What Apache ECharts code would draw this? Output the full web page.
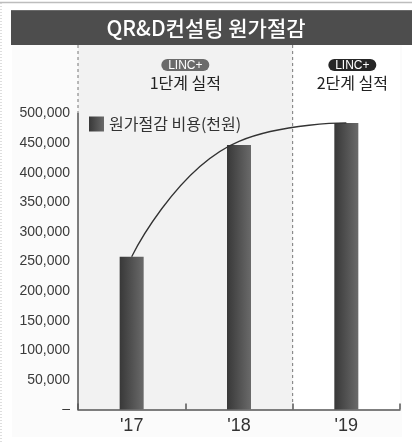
<!DOCTYPE html>
<html>
<head>
<meta charset="utf-8">
<script src="https://cdn.jsdelivr.net/npm/echarts@6/dist/echarts.min.js"></script>
<style>
  html, body { margin: 0; padding: 0; background: #ffffff; }
  #chart { width: 412px; height: 443px; }
</style>
</head>
<body>
<div id="chart"></div>
<script>
// Years on the category axis
var categories = ["'17", "'18", "'19"];
// Cost savings per year, in thousand won
var costSavings = [258000, 447000, 484000];
// Trend curve drawn over the bars
var trendValues = [258000, 453000, 484000];
// Value-axis tick values
var yTicks = [0, 50000, 100000, 150000, 200000, 250000, 300000, 350000, 400000, 450000, 500000];

var titleText = 'QR&D컨설팅 원가절감';
var seriesName = '원가절감 비용(천원)';
var phaseBadge = 'LINC+';
var phaseLabels = ['1단계 실적', '2단계 실적'];

var KR = '"Noto Sans CJK KR", "Noto Sans", sans-serif';
var NUM = '"Liberation Sans", Arial, sans-serif';

var chart = echarts.init(document.getElementById('chart'), null, { renderer: 'canvas' });

var option = {
  backgroundColor: '#ffffff',
  animation: false,
  grid: { left: 78, right: 12, top: 113.5, bottom: 33.5, containLabel: false },
  legend: {
    data: [seriesName],
    left: 84, top: 111,
    icon: 'rect', itemWidth: 15, itemHeight: 15, itemGap: 6,
    textStyle: { fontFamily: KR, fontSize: 16, color: '#333' }
  },
  xAxis: {
    type: 'category',
    data: categories,
    axisLine: { lineStyle: { color: '#555', width: 1.5 } },
    axisTick: { show: true, inside: true, length: 6, lineStyle: { color: '#555', width: 1.5 } },
    axisLabel: { fontFamily: NUM, fontSize: 18, color: '#333', margin: 8 },
    splitLine: { show: false }
  },
  yAxis: {
    type: 'value',
    min: yTicks[0], max: yTicks[yTicks.length - 1], interval: yTicks[1] - yTicks[0],
    axisLine: { show: true, lineStyle: { color: '#555', width: 1.5 } },
    axisTick: { show: false },
    splitLine: { show: false },
    axisLabel: {
      fontFamily: NUM, fontSize: 14, color: '#3a3a3a', margin: 8,
      formatter: function (v) { return v === 0 ? '–' : v.toLocaleString('en-US'); }
    }
  },
  series: [
    {
      name: seriesName,
      type: 'bar',
      data: costSavings,
      barWidth: 24,
      itemStyle: {
        color: new echarts.graphic.LinearGradient(0, 0, 1, 0, [
          { offset: 0, color: '#383838' },
          { offset: 1, color: '#6a6a6a' }
        ])
      },
      z: 2
    },
    {
      name: 'trend',
      type: 'line',
      data: trendValues,
      smooth: 0.5,
      symbol: 'none',
      lineStyle: { color: '#333', width: 1.3 },
      z: 3
    }
  ]
};
chart.setOption(option);

// Phase shading, dividers, badges and the title bar
function decorate() {
  var p0 = chart.convertToPixel({ seriesIndex: 0 }, [0, 0]);
  var p1 = chart.convertToPixel({ seriesIndex: 0 }, [1, 0]);
  var p2 = chart.convertToPixel({ seriesIndex: 0 }, [2, 0]);
  var band = p1[0] - p0[0];
  var axisX = p0[0] - band / 2;
  var divX = (p1[0] + p2[0]) / 2;
  var endX = p2[0] + band / 2;
  var baseY = p0[1];
  var topY = chart.convertToPixel({ seriesIndex: 0 }, [0, yTicks[yTicks.length - 1]])[1];
  var barTop = 45;
  var c1 = (axisX + divX) / 2;
  var c2 = (divX + endX) / 2 + 6;

  function badge(cx, fill) {
    return {
      type: 'group', x: cx, y: 65,
      children: [
        { type: 'rect', shape: { x: -24, y: -6, width: 48, height: 12, r: 6 }, style: { fill: fill } },
        { type: 'text', style: { x: 0, y: 0.5, text: phaseBadge, fill: '#fff', font: '12px ' + NUM, align: 'center', verticalAlign: 'middle' } }
      ]
    };
  }

  chart.setOption({
    graphic: [
      // outer frame
      { type: 'line', shape: { x1: 0, y1: 2.5, x2: 412, y2: 2.5 }, style: { stroke: '#bdbdbd', lineWidth: 1.5 }, z: 0 },
      { type: 'line', shape: { x1: 1, y1: 3, x2: 1, y2: 443 }, style: { stroke: '#bdbdbd', lineWidth: 1, lineDash: [1, 2] }, z: 0 },
      // light area behind the plot
      { type: 'rect', shape: { x: 12, y: 45, width: 390, height: 392 }, style: { fill: '#fbfbfb' }, z: -10 },
      { type: 'rect', shape: { x: divX, y: barTop, width: endX - divX, height: baseY - barTop }, style: { fill: '#ffffff' }, z: -9 },
      // phase 1 shading
      { type: 'rect', shape: { x: axisX, y: barTop, width: divX - axisX, height: baseY - barTop }, style: { fill: '#f2f2f2' }, z: -9 },
      // dashed dividers
      { type: 'line', shape: { x1: axisX, y1: barTop, x2: axisX, y2: topY }, style: { stroke: '#777', lineWidth: 1, lineDash: [3, 3] }, z: 1 },
      { type: 'line', shape: { x1: divX, y1: barTop, x2: divX, y2: baseY - 6 }, style: { stroke: '#777', lineWidth: 1, lineDash: [3, 3] }, z: 1 },
      // title bar
      { type: 'rect', shape: { x: 11, y: 10, width: 401, height: 35 }, style: { fill: '#4d4d4d' }, z: 5 },
      { type: 'line', shape: { x1: 11, y1: 10.5, x2: 412, y2: 10.5 }, style: { stroke: '#6a6a6a', lineWidth: 1 }, z: 6 },
      { type: 'text', style: { x: 206, y: 28, text: titleText, fill: '#ffffff', font: '500 21px ' + KR, align: 'center', verticalAlign: 'middle' }, z: 6 },
      // phase badges and captions
      badge(c1, '#6b6b6b'),
      badge(c2, '#262626'),
      { type: 'text', style: { x: c1, y: 83, text: phaseLabels[0], fill: '#222', font: '16px ' + KR, align: 'center', verticalAlign: 'middle' }, z: 6 },
      { type: 'text', style: { x: c2, y: 83, text: phaseLabels[1], fill: '#222', font: '16px ' + KR, align: 'center', verticalAlign: 'middle' }, z: 6 }
    ]
  });
}
decorate();
</script>
</body>
</html>
